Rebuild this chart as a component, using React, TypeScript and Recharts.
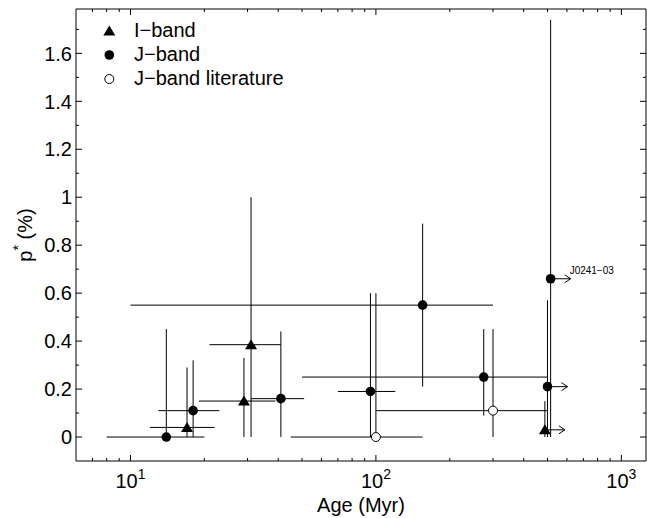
import { ScatterChart, Scatter, XAxis, YAxis, ErrorBar, Legend } from 'recharts'

const FONT = '"Liberation Sans", Arial, Helvetica, sans-serif'

const AGE_DOMAIN = [6, 1260]
const P_DOMAIN = [-0.1, 1.785]
const AGE_TICKS = [7, 8, 9, 10, 20, 30, 40, 50, 60, 70, 80, 90, 100, 200, 300, 400, 500, 600, 700, 800, 900, 1000]
const AGE_MAJOR = [10, 100, 1000]
const P_TICKS = [0, 0.1, 0.2, 0.3, 0.4, 0.5, 0.6, 0.7, 0.8, 0.9, 1, 1.1, 1.2, 1.3, 1.4, 1.5, 1.6, 1.7]

// I-band
const IBAND_AGE = [17, 29, 31, 488]
const IBAND_AGE_MIN = [12, 19, 21, 488]
const IBAND_AGE_MAX = [22, 39, 41, 488]
const IBAND_P = [0.04, 0.15, 0.385, 0.03]
const IBAND_P_MIN = [0, 0, 0, 0]
const IBAND_P_MAX = [0.29, 0.33, 1.0, 0.15]
const IBAND_LIMIT = [false, false, false, true]

// J-band
const JBAND_AGE = [14, 18, 41, 95, 155, 275, 500, 515]
const JBAND_AGE_MIN = [8, 13, 31, 70, 10, 50, 500, 515]
const JBAND_AGE_MAX = [20, 23, 51, 120, 300, 500, 500, 515]
const JBAND_P = [0, 0.11, 0.16, 0.19, 0.55, 0.25, 0.21, 0.66]
const JBAND_P_MIN = [0, 0, 0, 0, 0.21, 0.09, 0, 0]
const JBAND_P_MAX = [0.45, 0.32, 0.44, 0.6, 0.89, 0.45, 0.57, 1.74]
const JBAND_LIMIT = [false, false, false, false, false, false, true, true]
const JBAND_NAME = ['', '', '', '', '', '', '', 'J0241−03']

// J-band literature
const LIT_AGE = [100, 300]
const LIT_AGE_MIN = [45, 100]
const LIT_AGE_MAX = [155, 500]
const LIT_P = [0, 0.11]
const LIT_P_MIN = [0, 0]
const LIT_P_MAX = [0.6, 0.45]

const LEGEND_ITEMS = [
    { label: 'I−band', kind: 'tri' },
    { label: 'J−band', kind: 'dot' },
    { label: 'J−band literature', kind: 'open' },
]

function montarLinhas(
    age: number[], ageMin: number[], ageMax: number[],
    p: number[], pMin: number[], pMax: number[],
    limit?: boolean[], name?: string[],
) {
    return age.map((a, i) => ({
        age: a,
        p: p[i],
        ex: [a - ageMin[i], ageMax[i] - a],
        ey: [p[i] - pMin[i], pMax[i] - p[i]],
        limit: limit ? limit[i] : false,
        name: name ? name[i] : '',
    }))
}

const dadosI = montarLinhas(IBAND_AGE, IBAND_AGE_MIN, IBAND_AGE_MAX, IBAND_P, IBAND_P_MIN, IBAND_P_MAX, IBAND_LIMIT)
const dadosJ = montarLinhas(JBAND_AGE, JBAND_AGE_MIN, JBAND_AGE_MAX, JBAND_P, JBAND_P_MIN, JBAND_P_MAX, JBAND_LIMIT, JBAND_NAME)
const dadosLit = montarLinhas(LIT_AGE, LIT_AGE_MIN, LIT_AGE_MAX, LIT_P, LIT_P_MIN, LIT_P_MAX)

function Extras({ cx, cy, payload }: any) {
    return (
        <>
            {payload?.limit && (
                <g stroke="#000" strokeWidth={1} fill="none">
                    <line x1={cx} y1={cy} x2={cx + 20} y2={cy} />
                    <polyline points={`${cx + 14},${cy - 4} ${cx + 20},${cy} ${cx + 14},${cy + 4}`} />
                </g>
            )}
            {payload?.name && (
                <text x={cx + 19} y={cy - 5} fontSize={10} fontFamily={FONT} fill="#000">{payload.name}</text>
            )}
        </>
    )
}

function Triangulo(props: any) {
    const { cx, cy } = props
    return (
        <g>
            <polygon points={`${cx},${cy - 5.5} ${cx - 6},${cy + 4.5} ${cx + 6},${cy + 4.5}`} fill="#000" />
            <Extras {...props} />
        </g>
    )
}

function Bolinha(props: any) {
    const { cx, cy } = props
    return (
        <g>
            <circle cx={cx} cy={cy} r={4.8} fill="#000" />
            <Extras {...props} />
        </g>
    )
}

function BolinhaAberta(props: any) {
    const { cx, cy } = props
    return (
        <g>
            <circle cx={cx} cy={cy} r={4.5} fill="#fff" stroke="#000" strokeWidth={1} />
            <Extras {...props} />
        </g>
    )
}

function TickBaixo({ x, y, payload }: any) {
    const v = payload.value
    const major = AGE_MAJOR.includes(v)
    return (
        <g>
            <line x1={x} x2={x} y1={y} y2={y - (major ? 6 : 3)} stroke="#000" />
            {major && (
                <text x={x} y={y + 27} textAnchor="middle" fontSize={20} fontFamily={FONT} fill="#000">
                    10<tspan dy={-9} fontSize={14}>{Math.round(Math.log10(v))}</tspan>
                </text>
            )}
        </g>
    )
}

function TickTopo({ x, y, payload }: any) {
    const major = AGE_MAJOR.includes(payload.value)
    return <line x1={x} x2={x} y1={y} y2={y + (major ? 6 : 3)} stroke="#000" />
}

function ehMajorP(v: number) {
    return Math.round(v * 10) % 2 === 0
}

function TickEsquerda({ x, y, payload }: any) {
    const v = payload.value
    const major = ehMajorP(v)
    const texto = Number.isInteger(v) ? String(v) : v.toFixed(1)
    return (
        <g>
            <line x1={x} x2={x + (major ? 6 : 3)} y1={y} y2={y} stroke="#000" />
            {major && (
                <text x={x - 4} y={y} dy="0.36em" textAnchor="end" fontSize={20} fontFamily={FONT} fill="#000">
                    {texto}
                </text>
            )}
        </g>
    )
}

function TickDireita({ x, y, payload }: any) {
    const major = ehMajorP(payload.value)
    return <line x1={x} x2={x - (major ? 6 : 3)} y1={y} y2={y} stroke="#000" />
}

function Legenda() {
    return (
        <div style={{ fontFamily: FONT, fontSize: 20, color: '#000' }}>
            {LEGEND_ITEMS.map((item) => (
                <div key={item.label} style={{ display: 'flex', alignItems: 'center', height: 24 }}>
                    <svg width={38} height={24}>
                        {item.kind === 'tri' && <polygon points="13.3,6.5 7.3,16.5 19.3,16.5" fill="#000" />}
                        {item.kind === 'dot' && <circle cx={13.3} cy={12} r={4.8} fill="#000" />}
                        {item.kind === 'open' && <circle cx={13.3} cy={12} r={4.5} fill="#fff" stroke="#000" />}
                    </svg>
                    <span style={{ whiteSpace: 'nowrap' }}>{item.label}</span>
                </div>
            ))}
        </div>
    )
}

export default function App() {
    return (
        <div style={{ position: 'absolute', left: 0, top: 0 }}>
            <ScatterChart width={647} height={518} margin={{ top: 8, right: 0, bottom: 0, left: 0 }} style={{ fontFamily: FONT }}>
                <XAxis
                    xAxisId="b" dataKey="age" type="number" scale="log" domain={AGE_DOMAIN} allowDataOverflow
                    ticks={AGE_TICKS} interval={0} tick={TickBaixo} tickLine={false} tickSize={0} tickMargin={0}
                    height={57} axisLine={{ stroke: '#000' }}
                    label={{
                        content: ({ viewBox }: any) => (
                            <text x={viewBox.x + viewBox.width / 2} y={512} textAnchor="middle" fontSize={20} fontFamily={FONT} fill="#000">
                                Age (Myr)
                            </text>
                        ),
                    }}
                />
                <XAxis
                    xAxisId="t" dataKey="age" orientation="top" type="number" scale="log" domain={AGE_DOMAIN} allowDataOverflow
                    ticks={AGE_TICKS} interval={0} tick={TickTopo} tickLine={false} tickSize={0} tickMargin={0}
                    height={1} axisLine={{ stroke: '#000' }}
                />
                <YAxis
                    yAxisId="l" dataKey="p" type="number" domain={P_DOMAIN} allowDataOverflow
                    ticks={P_TICKS} interval={0} tick={TickEsquerda} tickLine={false} tickSize={0} tickMargin={0}
                    width={76} axisLine={{ stroke: '#000' }}
                    label={{
                        content: ({ viewBox }: any) => {
                            const lx = 32
                            const ly = viewBox.y + viewBox.height / 2
                            return (
                                <text x={lx} y={ly} transform={`rotate(-90 ${lx} ${ly})`} textAnchor="middle" fontSize={20} fontFamily={FONT} fill="#000">
                                    p<tspan dy={-9} fontSize={14}>*</tspan><tspan dy={9}> (%)</tspan>
                                </text>
                            )
                        },
                    }}
                />
                <YAxis
                    yAxisId="r" dataKey="p" orientation="right" type="number" domain={P_DOMAIN} allowDataOverflow
                    ticks={P_TICKS} interval={0} tick={TickDireita} tickLine={false} tickSize={0} tickMargin={0}
                    width={1} axisLine={{ stroke: '#000' }}
                />
                <Legend
                    layout="vertical" align="center" verticalAlign="middle"
                    wrapperStyle={{ left: 96, top: 18.7, width: 'auto' }}
                    content={<Legenda />}
                />
                {/* moldura: série vazia só para ligar os eixos de cima e da direita */}
                <Scatter xAxisId="t" yAxisId="r" data={[]} isAnimationActive={false} legendType="none" />
                <Scatter name="I−band" xAxisId="b" yAxisId="l" data={dadosI} shape={Triangulo} isAnimationActive={false}>
                    <ErrorBar dataKey="ex" direction="x" width={0} stroke="#000" strokeWidth={1} isAnimationActive={false} />
                    <ErrorBar dataKey="ey" direction="y" width={0} stroke="#000" strokeWidth={1} isAnimationActive={false} />
                </Scatter>
                <Scatter name="J−band" xAxisId="b" yAxisId="l" data={dadosJ} shape={Bolinha} isAnimationActive={false}>
                    <ErrorBar dataKey="ex" direction="x" width={0} stroke="#000" strokeWidth={1} isAnimationActive={false} />
                    <ErrorBar dataKey="ey" direction="y" width={0} stroke="#000" strokeWidth={1} isAnimationActive={false} />
                </Scatter>
                <Scatter name="J−band literature" xAxisId="b" yAxisId="l" data={dadosLit} shape={BolinhaAberta} isAnimationActive={false}>
                    <ErrorBar dataKey="ex" direction="x" width={0} stroke="#000" strokeWidth={1} isAnimationActive={false} />
                    <ErrorBar dataKey="ey" direction="y" width={0} stroke="#000" strokeWidth={1} isAnimationActive={false} />
                </Scatter>
            </ScatterChart>
        </div>
    )
}
